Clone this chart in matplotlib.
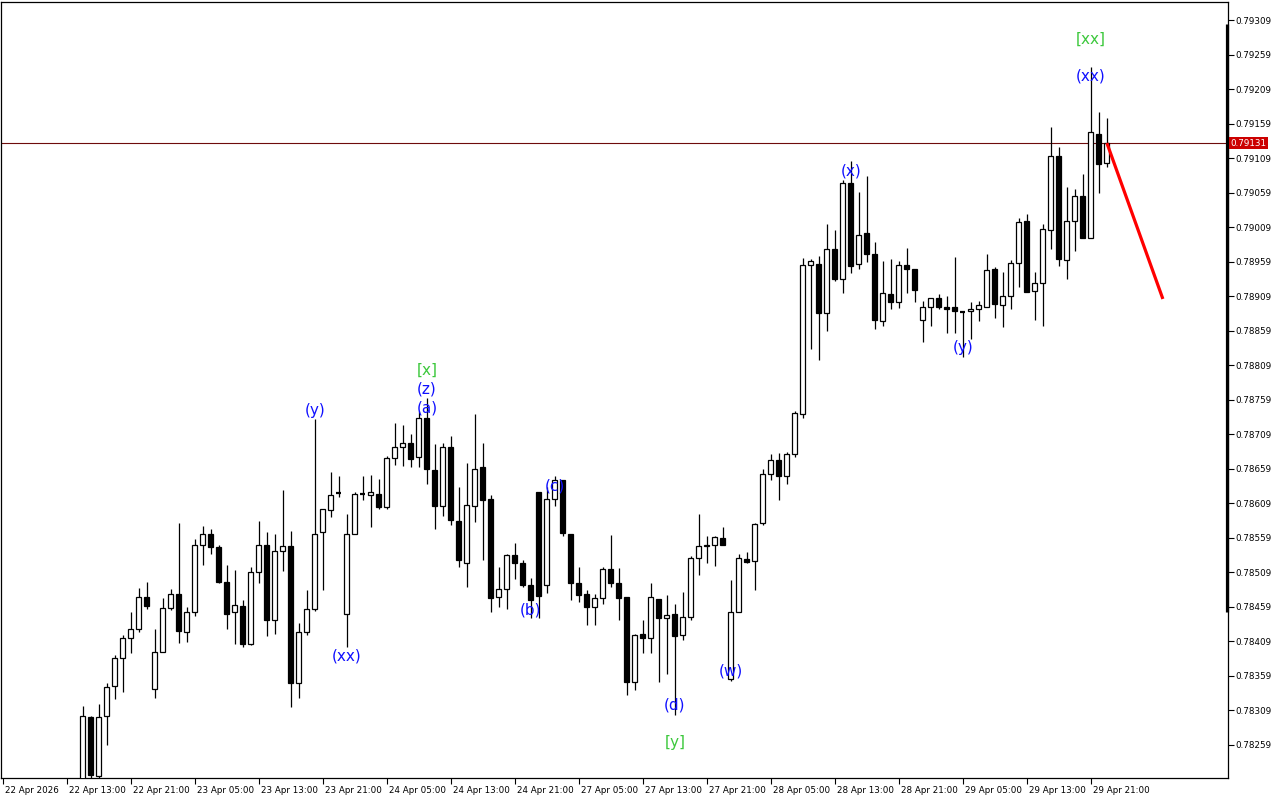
import matplotlib
matplotlib.use("Agg")
import matplotlib.pyplot as plt
import matplotlib.transforms as mtransforms

# ---------------- data (H1 candles, first bar = 22 Apr 15:00) ----------------
first_bar = 2
opens = [0.78195, 0.78299, 0.78213, 0.78300, 0.78344, 0.78384, 0.78413, 0.78426, 0.78473, 0.78339,
         0.78394, 0.78457, 0.78478, 0.78422, 0.78452, 0.78549, 0.78565, 0.78545, 0.78495, 0.78451,
         0.78460, 0.78405, 0.78509, 0.78549, 0.78440, 0.78539, 0.78547, 0.78349, 0.78423, 0.78455,
         0.78567, 0.78599, 0.78624, 0.78448, 0.78565, 0.78622, 0.78621, 0.78623, 0.78604, 0.78674,
         0.78691, 0.78696, 0.78676, 0.78732, 0.78657, 0.78605, 0.78690, 0.78583, 0.78523, 0.78605,
         0.78661, 0.78615, 0.78473, 0.78484, 0.78534, 0.78522, 0.78491, 0.78625, 0.78490, 0.78615,
         0.78642, 0.78565, 0.78493, 0.78477, 0.78459, 0.78471, 0.78513, 0.78493, 0.78473, 0.78350,
         0.78419, 0.78413, 0.78470, 0.78442, 0.78448, 0.78418, 0.78444, 0.78529, 0.78547, 0.78549,
         0.78558, 0.78354, 0.78452, 0.78528, 0.78525, 0.78580, 0.78651, 0.78671, 0.78649, 0.78680,
         0.78738, 0.78954, 0.78955, 0.78884, 0.78977, 0.78934, 0.79073, 0.78955, 0.79000, 0.78970,
         0.78873, 0.78912, 0.78901, 0.78954, 0.78948, 0.78874, 0.78893, 0.78907, 0.78893, 0.78893,
         0.78887, 0.78887, 0.78891, 0.78894, 0.78948, 0.78896, 0.78910, 0.78957, 0.79018, 0.78916,
         0.78928, 0.79005, 0.79112, 0.78962, 0.79018, 0.79054, 0.78993, 0.79144, 0.79102]
highs = [0.78315, 0.78300, 0.78318, 0.78348, 0.78389, 0.78418, 0.78451, 0.78486, 0.78495, 0.78427,
         0.78471, 0.78485, 0.78580, 0.78459, 0.78557, 0.78576, 0.78571, 0.78548, 0.78519, 0.78512,
         0.78469, 0.78516, 0.78583, 0.78567, 0.78565, 0.78628, 0.78569, 0.78435, 0.78483, 0.78731,
         0.78600, 0.78654, 0.78648, 0.78593, 0.78625, 0.78648, 0.78650, 0.78644, 0.78678, 0.78725,
         0.78722, 0.78709, 0.78742, 0.78761, 0.78695, 0.78696, 0.78707, 0.78633, 0.78667, 0.78738,
         0.78696, 0.78621, 0.78517, 0.78535, 0.78551, 0.78526, 0.78500, 0.78625, 0.78632, 0.78648,
         0.78642, 0.78565, 0.78517, 0.78483, 0.78478, 0.78517, 0.78563, 0.78515, 0.78473, 0.78419,
         0.78440, 0.78493, 0.78470, 0.78476, 0.78463, 0.78480, 0.78532, 0.78593, 0.78561, 0.78561,
         0.78574, 0.78498, 0.78536, 0.78538, 0.78580, 0.78659, 0.78680, 0.78682, 0.78683, 0.78743,
         0.78964, 0.78963, 0.78967, 0.79014, 0.79005, 0.79078, 0.79105, 0.79060, 0.79083, 0.78987,
         0.78960, 0.78963, 0.78960, 0.78979, 0.78948, 0.78902, 0.78907, 0.78912, 0.78910, 0.78966,
         0.78887, 0.78900, 0.78902, 0.78970, 0.78952, 0.78944, 0.78961, 0.79023, 0.79028, 0.78944,
         0.79013, 0.79154, 0.79125, 0.79067, 0.79064, 0.79086, 0.79241, 0.79176, 0.79167]
lows = [0.78180, 0.78205, 0.78205, 0.78258, 0.78325, 0.78335, 0.78392, 0.78422, 0.78455, 0.78327,
        0.78394, 0.78454, 0.78407, 0.78408, 0.78446, 0.78520, 0.78536, 0.78494, 0.78426, 0.78405,
        0.78400, 0.78403, 0.78493, 0.78416, 0.78420, 0.78510, 0.78313, 0.78326, 0.78418, 0.78453,
        0.78483, 0.78589, 0.78618, 0.78401, 0.78565, 0.78613, 0.78575, 0.78601, 0.78600, 0.78665,
        0.78663, 0.78662, 0.78662, 0.78637, 0.78571, 0.78591, 0.78578, 0.78517, 0.78488, 0.78582,
        0.78526, 0.78452, 0.78458, 0.78455, 0.78499, 0.78487, 0.78442, 0.78442, 0.78479, 0.78605,
        0.78561, 0.78469, 0.78466, 0.78432, 0.78432, 0.78463, 0.78488, 0.78440, 0.78331, 0.78338,
        0.78392, 0.78392, 0.78350, 0.78362, 0.78302, 0.78410, 0.78439, 0.78505, 0.78523, 0.78518,
        0.78548, 0.78352, 0.78452, 0.78522, 0.78483, 0.78577, 0.78642, 0.78613, 0.78637, 0.78676,
        0.78732, 0.78833, 0.78816, 0.78859, 0.78931, 0.78914, 0.78943, 0.78949, 0.78959, 0.78862,
        0.78866, 0.78891, 0.78892, 0.78914, 0.78901, 0.78842, 0.78866, 0.78890, 0.78856, 0.78856,
        0.78821, 0.78847, 0.78873, 0.78893, 0.78877, 0.78865, 0.78890, 0.78923, 0.78915, 0.78875,
        0.78866, 0.78978, 0.78953, 0.78934, 0.78974, 0.78993, 0.78993, 0.79059, 0.79096]
closes = [0.78300, 0.78215, 0.78299, 0.78342, 0.78384, 0.78413, 0.78426, 0.78473, 0.78460, 0.78394,
          0.78457, 0.78478, 0.78424, 0.78452, 0.78549, 0.78565, 0.78545, 0.78495, 0.78449, 0.78461,
          0.78405, 0.78509, 0.78549, 0.78440, 0.78539, 0.78547, 0.78348, 0.78422, 0.78455, 0.78565,
          0.78600, 0.78621, 0.78623, 0.78564, 0.78622, 0.78622, 0.78625, 0.78603, 0.78674, 0.78691,
          0.78696, 0.78673, 0.78732, 0.78658, 0.78605, 0.78690, 0.78584, 0.78526, 0.78607, 0.78659,
          0.78614, 0.78472, 0.78484, 0.78534, 0.78522, 0.78491, 0.78468, 0.78474, 0.78615, 0.78642,
          0.78566, 0.78494, 0.78476, 0.78459, 0.78471, 0.78513, 0.78493, 0.78471, 0.78350, 0.78418,
          0.78413, 0.78473, 0.78442, 0.78447, 0.78417, 0.78444, 0.78529, 0.78547, 0.78549, 0.78560,
          0.78549, 0.78452, 0.78529, 0.78524, 0.78579, 0.78651, 0.78671, 0.78649, 0.78680, 0.78739,
          0.78954, 0.78960, 0.78884, 0.78978, 0.78934, 0.79073, 0.78953, 0.78997, 0.78970, 0.78874,
          0.78913, 0.78901, 0.78954, 0.78948, 0.78918, 0.78893, 0.78907, 0.78893, 0.78891, 0.78887,
          0.78886, 0.78890, 0.78896, 0.78947, 0.78897, 0.78910, 0.78957, 0.79016, 0.78915, 0.78928,
          0.79006, 0.79112, 0.78963, 0.79018, 0.79054, 0.78993, 0.79147, 0.79100, 0.79131]

current_price = 0.79131

# time axis labels (bar index, label)
tick_bars = [-8, 0, 8, 16, 24, 32, 40, 48, 56, 64, 72, 80, 88, 96, 104, 112, 120, 128]
tick_labels = ["22 Apr 2026", "22 Apr 13:00", "22 Apr 21:00", "23 Apr 05:00", "23 Apr 13:00",
               "23 Apr 21:00", "24 Apr 05:00", "24 Apr 13:00", "24 Apr 21:00", "27 Apr 05:00",
               "27 Apr 13:00", "27 Apr 21:00", "28 Apr 05:00", "28 Apr 13:00", "28 Apr 21:00",
               "29 Apr 05:00", "29 Apr 13:00", "29 Apr 21:00"]

price_ticks = [0.79309, 0.79259, 0.79209, 0.79159, 0.79109, 0.79059, 0.79009, 0.78959, 0.78909,
               0.78859, 0.78809, 0.78759, 0.78709, 0.78659, 0.78609, 0.78559, 0.78509, 0.78459,
               0.78409, 0.78359, 0.78309, 0.78259]

# visible-range bar on the price scale edge
range_bar = [0.78452, 0.79303]

# wave labels
wave_texts = ["(y)", "(xx)", "[x]", "(z)", "(a)", "(c)", "(b)", "(d)", "[y]", "(w)", "(x)", "(y)", "(xx)", "[xx]"]
wave_bars = [31, 35, 45, 45, 45, 61, 58, 76, 76, 83, 98, 112, 128, 128]
wave_prices = [0.78743, 0.78388, 0.78801, 0.78775, 0.78747, 0.78634, 0.78454, 0.78317, 0.78262,
               0.78366, 0.79090, 0.78834, 0.79228, 0.79282]
wave_colors = ["blue", "blue", "green", "blue", "blue", "blue", "blue", "blue", "green", "blue",
               "blue", "blue", "blue", "green"]

# forecast line
forecast_bars = [130, 137]
forecast_prices = [0.79131, 0.78905]

# ---------------- drawing ----------------
W, H = 1280, 800
fig = plt.figure(figsize=(W / 100, H / 100), dpi=100)
fig.patch.set_facecolor("white")
ax = fig.add_axes([1 / W, 22 / H, 1227 / W, 776 / H])
ax.set_facecolor("white")

xs = list(range(first_bar, first_bar + len(opens)))
ax.vlines(xs, lows, highs, color="black", linewidth=0.9, zorder=2)
for x, o, c in zip(xs, opens, closes):
    up = c >= o
    bottom = min(o, c)
    height = abs(c - o)
    if height < 0.000012:
        ax.hlines((o + c) / 2, x - 0.32, x + 0.32, color="black", linewidth=1.6, zorder=3)
    else:
        ax.bar(x, height, bottom=bottom, width=0.62, color="white" if up else "black",
               edgecolor="black", linewidth=0.9, zorder=3)

ax.axhline(current_price, color="#6e0c0c", linewidth=0.8, zorder=1)
ax.plot(forecast_bars, forecast_prices, color="#ff0000", linewidth=2.3, zorder=4,
        solid_capstyle="butt")

color_map = {"blue": "#1010ff", "green": "#3cc83c"}
for t, b, p, col in zip(wave_texts, wave_bars, wave_prices, wave_colors):
    ax.text(b, p, t, color=color_map[col], fontsize=11, ha="center", va="center", zorder=5)

ax.set_xlim(-8.24, 145.14)
ax.set_ylim(0.782107, 0.793354)

# thick bar at right edge of plot
ax.plot([0.9988, 0.9988], range_bar, transform=ax.get_yaxis_transform(), color="black",
        linewidth=2.3, solid_capstyle="butt", zorder=6, clip_on=False)

# y axis on right
ax.yaxis.tick_right()
ax.set_yticks(price_ticks)
ax.set_yticklabels([f"{v:.5f}" for v in price_ticks], fontsize=6.3)
ax.tick_params(axis="y", direction="out", length=4, width=0.8, pad=1, colors="black")

# x axis
ax.set_xticks(tick_bars)
ax.set_xticklabels(tick_labels, fontsize=6.3)
ax.tick_params(axis="x", direction="out", length=4, width=0.8, pad=2, colors="black")
offset = mtransforms.ScaledTranslation(2 / 100, 0, fig.dpi_scale_trans)
for lab in ax.get_xticklabels():
    lab.set_horizontalalignment("left")
    lab.set_transform(lab.get_transform() + offset)

for s in ax.spines.values():
    s.set_color("black")
    s.set_linewidth(0.9)

# current price tag
ax.text(1.002, current_price, f"{current_price:.5f}", transform=ax.get_yaxis_transform(),
        color="white", fontsize=6.3, ha="left", va="center", zorder=6,
        bbox=dict(boxstyle="square,pad=0.15", facecolor="#cc0000", edgecolor="none"),
        clip_on=False)

fig.savefig("out.png", dpi=100, facecolor="white")
